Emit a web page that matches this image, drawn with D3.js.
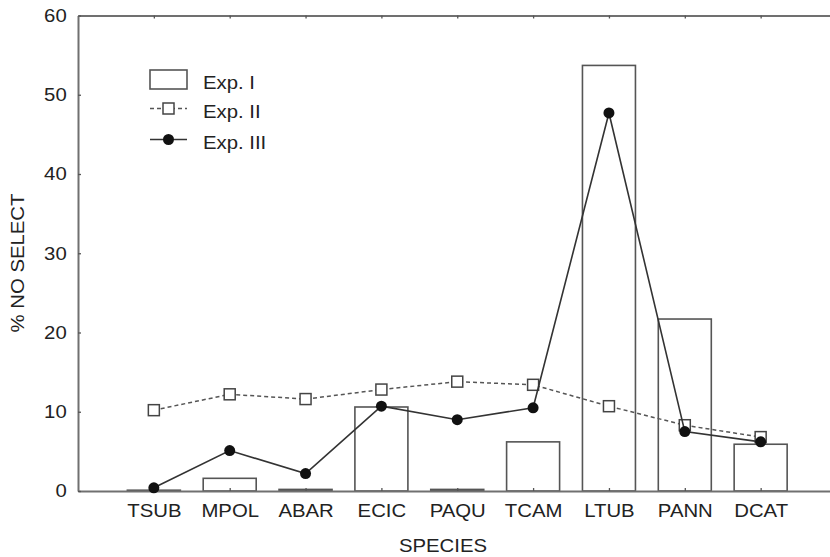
<!DOCTYPE html>
<html>
<head>
<meta charset="utf-8">
<script src="https://cdn.jsdelivr.net/npm/d3@7"></script>
<style>
  body { margin: 0; background: #fff; }
  text { font-family: "Liberation Sans", Arial, sans-serif; fill: #222; }
</style>
</head>
<body>
<div id="chart"></div>
<script>
// Species and % no select for the three experiments
const species = ['TSUB', 'MPOL', 'ABAR', 'ECIC', 'PAQU', 'TCAM', 'LTUB', 'PANN', 'DCAT'];
const exp1 = [0.1, 1.6, 0.2, 10.6, 0.2, 6.2, 53.7, 21.7, 5.9];
const exp2 = [10.2, 12.2, 11.6, 12.8, 13.8, 13.4, 10.7, 8.3, 6.8];
const exp3 = [0.4, 5.1, 2.2, 10.7, 9.0, 10.5, 47.7, 7.5, 6.2];
const yTicks = [0, 10, 20, 30, 40, 50, 60];
const legendNames = ['Exp. I', 'Exp. II', 'Exp. III'];

const width = 830, height = 557;
const stretch = 1.13;   // glyphs in the original are a bit wider than Arial

const svg = d3.select("#chart")
    .append("svg")
    .attr("width", width)
    .attr("height", height);

// categories sit at 1..9 on a 0..10 axis, right frame falls off the picture
const x = d3.scaleLinear().domain([0, 10]).range([78, 836.5]);
const y = d3.scaleLinear().domain([0, 60]).range([491, 15.5]);
const barW = 53;

// bars (Exp. I)
svg.selectAll(".bar")
    .data(exp1)
    .enter()
    .append("rect")
    .attr("class", "bar")
    .attr("x", (d, i) => x(i + 1) - barW / 2)
    .attr("y", d => y(d))
    .attr("width", barW)
    .attr("height", d => y(0) - y(d))
    .style("fill", "#fff")
    .style("stroke", "#555")
    .style("stroke-width", 1.6);

// frame and ticks
const axisColor = "#707070";

function styleAxis(g) {
    g.select(".domain").style("stroke", axisColor).style("stroke-width", 2);
    g.selectAll(".tick line").style("stroke", "#555").style("stroke-width", 1.3);
    g.selectAll("text")
        .style("font-size", "18px")
        .style("font-family", "'Liberation Sans', Arial, sans-serif")
        .style("fill", "#222");
}

const catTicks = d3.range(1, 10);

const axBottom = svg.append("g")
    .attr("transform", "translate(0," + y(0) + ")")
    .call(d3.axisBottom(x).tickValues(catTicks)
        .tickFormat(i => species[i - 1])
        .tickSizeInner(-3).tickSizeOuter(0).tickPadding(13));
styleAxis(axBottom);
axBottom.selectAll("text").attr("transform", "scale(" + stretch + ",1)");

const axTop = svg.append("g")
    .attr("transform", "translate(0," + y(60) + ")")
    .call(d3.axisTop(x).tickValues(catTicks).tickFormat("")
        .tickSizeInner(-3).tickSizeOuter(0));
styleAxis(axTop);

const axLeft = svg.append("g")
    .attr("transform", "translate(" + x(0) + ",0)")
    .call(d3.axisLeft(y).tickValues(yTicks)
        .tickSizeInner(-3).tickSizeOuter(0).tickPadding(10));
styleAxis(axLeft);
axLeft.selectAll("text").attr("transform", "scale(" + stretch + ",1)");

const axRight = svg.append("g")
    .attr("transform", "translate(" + x(10) + ",0)")
    .call(d3.axisRight(y).tickValues(yTicks).tickFormat("")
        .tickSizeInner(-3).tickSizeOuter(0));
styleAxis(axRight);

// Exp. II dashed line with open squares
const line = d3.line()
    .x((d, i) => x(i + 1))
    .y(d => y(d));

svg.append("path")
    .datum(exp2)
    .attr("d", line)
    .style("fill", "none")
    .style("stroke", "#555")
    .style("stroke-width", 1.5)
    .style("stroke-dasharray", "4,3");

const sq = 11;
svg.selectAll(".sq")
    .data(exp2)
    .enter()
    .append("rect")
    .attr("class", "sq")
    .attr("x", (d, i) => x(i + 1) - sq / 2)
    .attr("y", d => y(d) - sq / 2)
    .attr("width", sq)
    .attr("height", sq)
    .style("fill", "#fff")
    .style("stroke", "#444")
    .style("stroke-width", 1.5);

// Exp. III solid line with filled dots
svg.append("path")
    .datum(exp3)
    .attr("d", line)
    .style("fill", "none")
    .style("stroke", "#333")
    .style("stroke-width", 1.6);

svg.selectAll(".dot")
    .data(exp3)
    .enter()
    .append("circle")
    .attr("class", "dot")
    .attr("cx", (d, i) => x(i + 1))
    .attr("cy", d => y(d))
    .attr("r", 5.5)
    .style("fill", "#111");

// axis titles
svg.append("text")
    .attr("transform", "translate(443,552) scale(" + stretch + ",1)")
    .style("text-anchor", "middle")
    .style("font-size", "18px")
    .text("SPECIES");

svg.append("text")
    .attr("transform", "translate(24,263) rotate(-90) scale(" + stretch + ",1)")
    .style("text-anchor", "middle")
    .style("font-size", "18px")
    .text("% NO SELECT");

// legend
const legend = svg.append("g");
const rowY = [79.5, 108.5, 139.5];

legend.append("rect")
    .attr("x", 150).attr("y", 70)
    .attr("width", 37).attr("height", 19)
    .style("fill", "#fff")
    .style("stroke", "#555")
    .style("stroke-width", 1.6);

legend.append("line")
    .attr("x1", 150).attr("x2", 187)
    .attr("y1", rowY[1]).attr("y2", rowY[1])
    .style("stroke", "#555")
    .style("stroke-width", 1.5)
    .style("stroke-dasharray", "4,3");
legend.append("rect")
    .attr("x", 168.5 - sq / 2).attr("y", rowY[1] - sq / 2)
    .attr("width", sq).attr("height", sq)
    .style("fill", "#fff")
    .style("stroke", "#444")
    .style("stroke-width", 1.5);

legend.append("line")
    .attr("x1", 150).attr("x2", 187)
    .attr("y1", rowY[2]).attr("y2", rowY[2])
    .style("stroke", "#333")
    .style("stroke-width", 1.6);
legend.append("circle")
    .attr("cx", 168.5).attr("cy", rowY[2])
    .attr("r", 5.5)
    .style("fill", "#111");

legend.selectAll(".ltext")
    .data(legendNames)
    .enter()
    .append("text")
    .attr("class", "ltext")
    .attr("transform", (d, i) => "translate(203," + (rowY[i] + 9) + ") scale(" + stretch + ",1)")
    .style("font-size", "18px")
    .text(d => d);
</script>
</body>
</html>
